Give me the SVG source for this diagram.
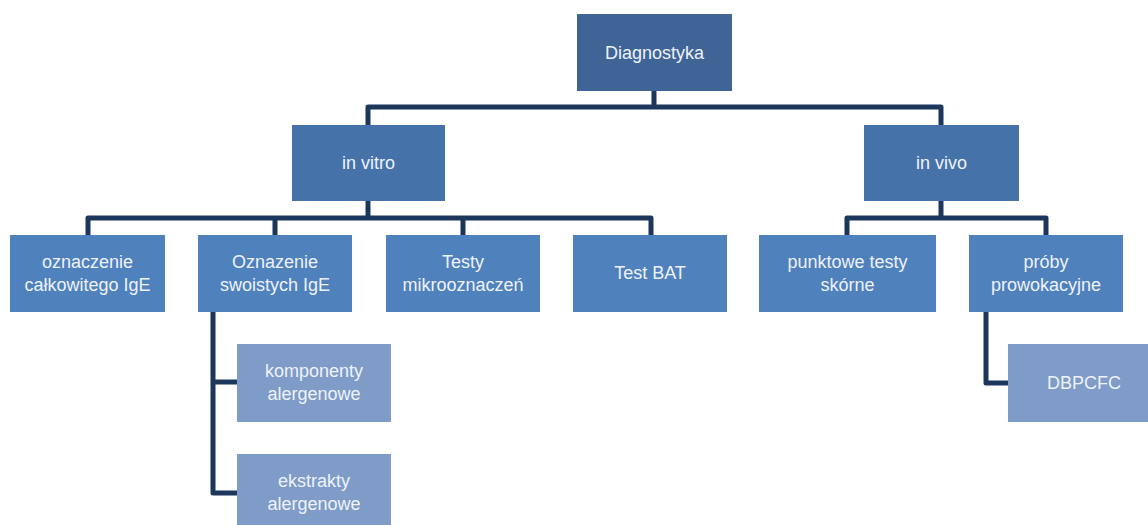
<svg xmlns="http://www.w3.org/2000/svg" width="1148" height="525" viewBox="0 0 1148 525">
<style>
.l1{fill:#3e6596}
.l2{fill:#4672aa}
.l3{fill:#4f81bd}
.l4{fill:#7e9cc7}
text{font-family:"Liberation Sans",Arial,sans-serif;font-size:18px;fill:#eef2f8;text-anchor:middle}
.c{fill:none;stroke:#1d375c;stroke-width:5;stroke-linejoin:round;stroke-linecap:butt}
</style>
<rect width="1148" height="525" fill="#fff"/>
<g id="connectors">
<path class="c" d="M654 91V107M368 125V107H941V125"/>
<path class="c" d="M368 201V218M88 235V218H651V235M275 218V235M463 218V235"/>
<path class="c" d="M941 201V218M847 235V218H1046V235"/>
<path class="c" d="M213 312V493H237M213 382H237"/>
<path class="c" d="M986 312V383H1008"/>
</g>
<g id="diagnostyka"><rect class="l1" x="577" y="14" width="155" height="77"/><text x="654.5" y="59">Diagnostyka</text></g>
<g id="in-vitro"><rect class="l2" x="292" y="125" width="153" height="76"/><text x="368.5" y="169">in vitro</text></g>
<g id="in-vivo"><rect class="l2" x="864" y="125" width="155" height="76"/><text x="941.5" y="169">in vivo</text></g>
<g id="calkowite"><rect class="l3" x="10" y="235" width="155" height="77"/><text x="87.5" y="268">oznaczenie</text><text x="87.5" y="291">całkowitego IgE</text></g>
<g id="swoiste"><rect class="l3" x="198" y="235" width="154" height="77"/><text x="275" y="268">Oznazenie</text><text x="275" y="291">swoistych IgE</text></g>
<g id="mikro"><rect class="l3" x="386" y="235" width="154" height="77"/><text x="463" y="268">Testy</text><text x="463" y="291">mikrooznaczeń</text></g>
<g id="bat"><rect class="l3" x="573" y="235" width="154" height="77"/><text x="650" y="279">Test BAT</text></g>
<g id="punktowe"><rect class="l3" x="759" y="235" width="177" height="77"/><text x="847.5" y="268">punktowe testy</text><text x="847.5" y="291">skórne</text></g>
<g id="proby"><rect class="l3" x="969" y="235" width="154" height="77"/><text x="1046" y="268">próby</text><text x="1046" y="291">prowokacyjne</text></g>
<g id="komponenty"><rect class="l4" x="237" y="344" width="154" height="78"/><text x="314" y="377">komponenty</text><text x="314" y="400">alergenowe</text></g>
<g id="ekstrakty"><rect class="l4" x="237" y="454" width="154" height="78"/><text x="314" y="487">ekstrakty</text><text x="314" y="510">alergenowe</text></g>
<g id="dbpcfc"><rect class="l4" x="1008" y="344" width="145" height="78"/><text x="1084" y="389">DBPCFC</text></g>
</svg>
